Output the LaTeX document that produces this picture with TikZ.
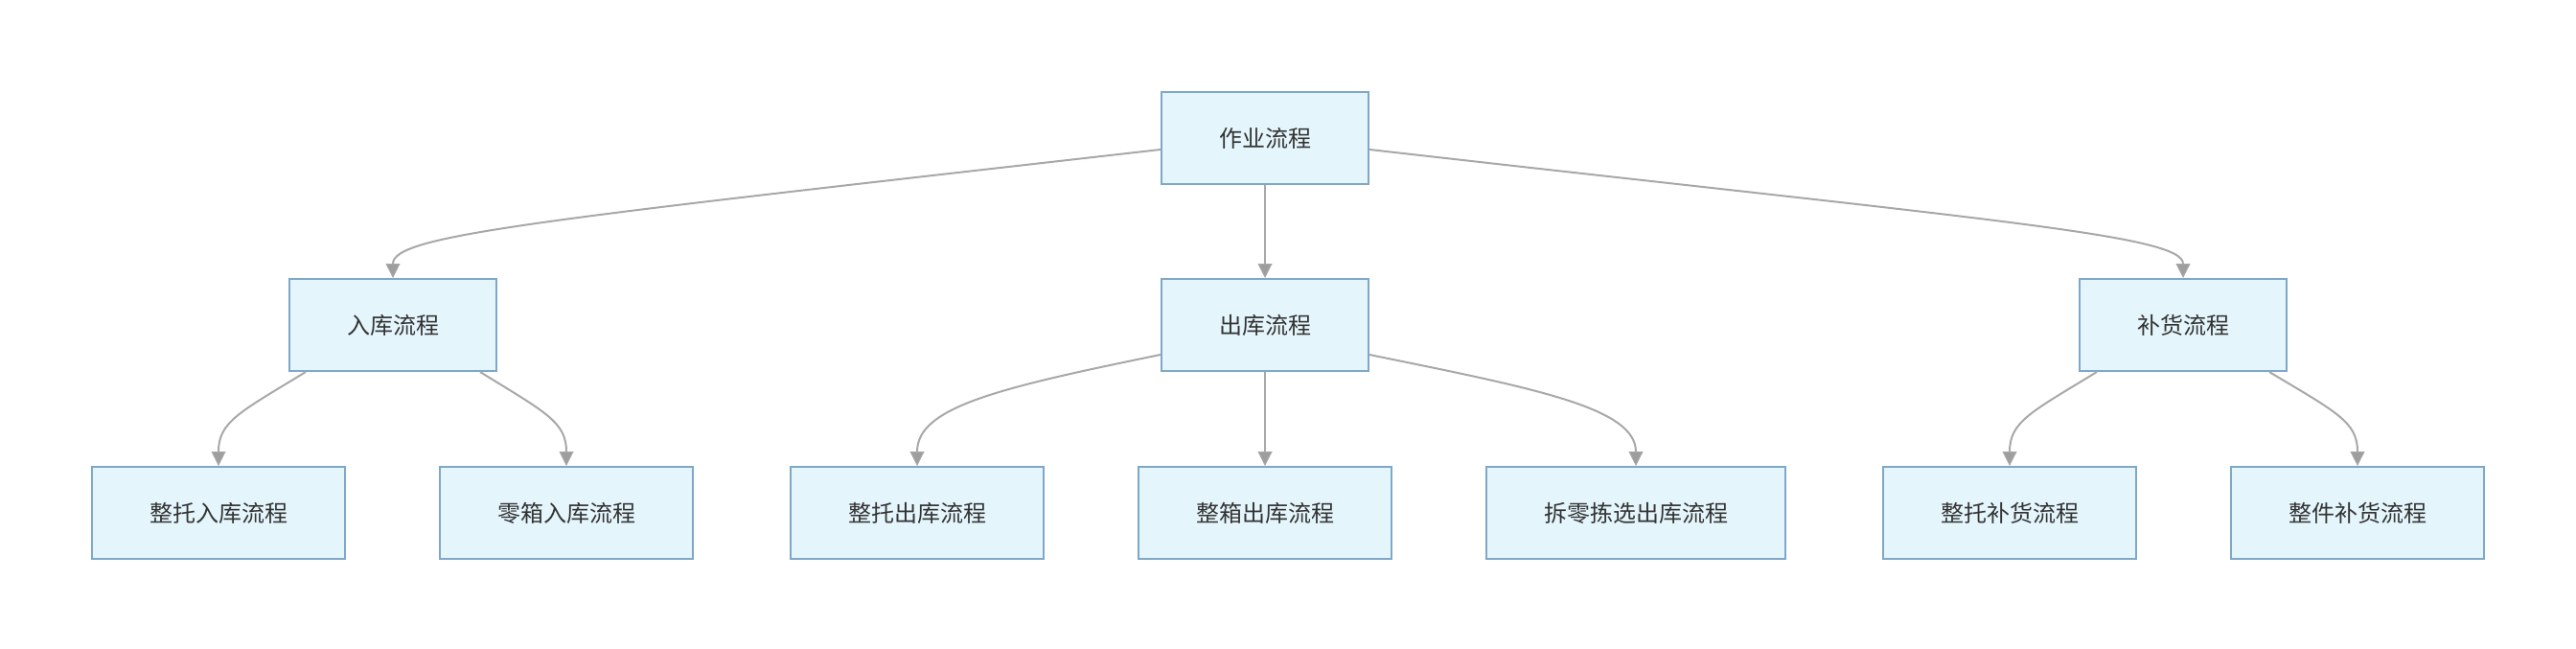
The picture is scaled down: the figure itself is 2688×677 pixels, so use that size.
\documentclass[tikz,border=0pt]{standalone}
\usepackage{fontspec}
\setmainfont{Noto Sans CJK SC}
\usetikzlibrary{arrows.meta}
\definecolor{boxfill}{HTML}{E4F5FC}
\definecolor{boxline}{HTML}{7FA8C8}
\definecolor{edgegray}{HTML}{A8A8A8}
\definecolor{tipgray}{HTML}{9E9E9E}
\definecolor{txt}{HTML}{333333}
\tikzset{
  flowbox/.style={draw=boxline, line width=2pt, fill=boxfill, text=txt,
    minimum height=96pt, inner sep=0pt, font=\fontsize{24}{28}\selectfont},
  w4/.style={minimum width=216pt},
  w6/.style={minimum width=264pt},
  w8/.style={minimum width=312pt},
  link/.style={draw=edgegray, line width=2pt,
    -{Triangle[width=15pt,length=15pt,fill=tipgray,line width=1pt]}}
}
\begin{document}
\begin{tikzpicture}[x=1pt,y=-1pt]
\useasboundingbox (0,0) rectangle (2688,677);
\node[flowbox,w4] (top) at (1320,144) {作业流程};
\node[flowbox,w4] (in) at (410,339) {入库流程};
\node[flowbox,w4] (out) at (1320,339) {出库流程};
\node[flowbox,w4] (bu) at (2278,339) {补货流程};
\node[flowbox,w6] (in1) at (228,535) {整托入库流程};
\node[flowbox,w6] (in2) at (591,535) {零箱入库流程};
\node[flowbox,w6] (out1) at (957,535) {整托出库流程};
\node[flowbox,w6] (out2) at (1320,535) {整箱出库流程};
\node[flowbox,w8] (out3) at (1707,535) {拆零拣选出库流程};
\node[flowbox,w6] (bu1) at (2097,535) {整托补货流程};
\node[flowbox,w6] (bu2) at (2460,535) {整件补货流程};

\draw[link] ([yshift=-12pt]top.west) .. controls (560,230) and (410,245) .. (in.north);
\draw[link] (top.south) -- (out.north);
\draw[link] ([yshift=-12pt]top.east) .. controls (2080,230) and (2278,245) .. (bu.north);

\draw[link] ([xshift=-91pt]in.south) .. controls (250,430) and (228,440) .. (in1.north);
\draw[link] ([xshift=91pt]in.south) .. controls (569,430) and (591,440) .. (in2.north);

\draw[link] ([yshift=-31pt]out.west) .. controls (1040,405) and (957,425) .. (out1.north);
\draw[link] (out.south) -- (out2.north);
\draw[link] ([yshift=-31pt]out.east) .. controls (1600,405) and (1707,425) .. (out3.north);

\draw[link] ([xshift=-90pt]bu.south) .. controls (2119,430) and (2097,440) .. (bu1.north);
\draw[link] ([xshift=90pt]bu.south) .. controls (2438,430) and (2460,440) .. (bu2.north);
\end{tikzpicture}
\end{document}
